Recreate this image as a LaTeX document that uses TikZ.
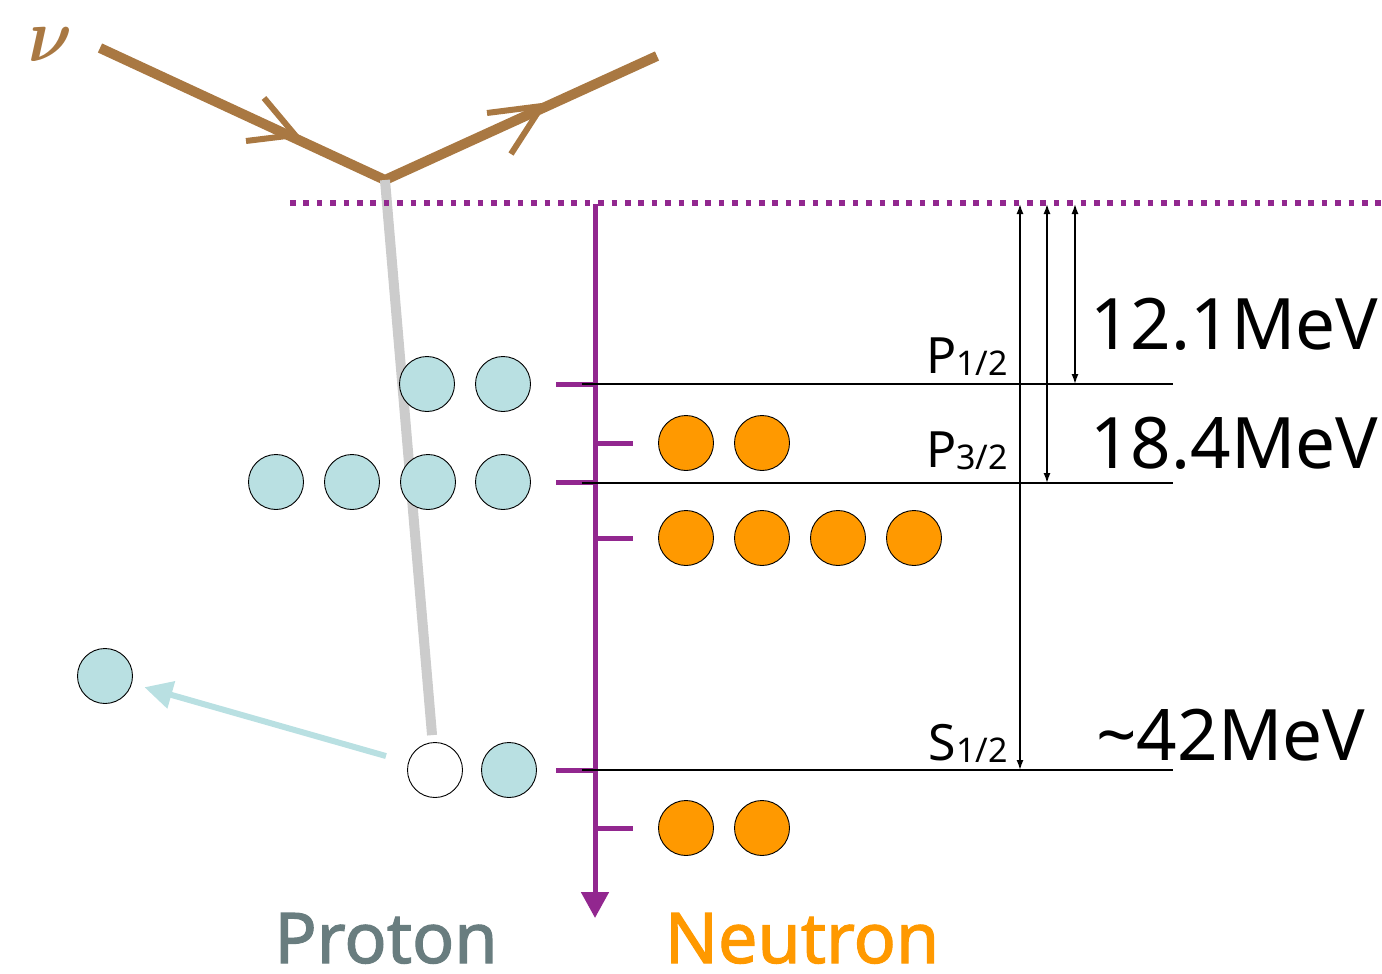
\documentclass[tikz,border=0pt]{standalone}
\usepackage{amsmath}
\usepackage{graphicx}
\usepackage{fontspec}
\setmainfont{Noto Sans}
\newfontfamily\speciesfont{Noto Sans}[FakeBold=1.6]
\usetikzlibrary{arrows.meta}

\definecolor{nubrown}{HTML}{A97842}
\definecolor{axispurple}{HTML}{92278F}
\definecolor{protonblue}{HTML}{B9E0E2}
\definecolor{neutronorange}{HTML}{FF9900}
\definecolor{protongrey}{HTML}{697D7F}
\definecolor{recoilgrey}{HTML}{CCCCCC}

\begin{document}
\begin{tikzpicture}[x=1pt,y=-1pt,
  nucleon/.style={circle,draw=black,line width=0.9pt,minimum size=55pt,inner sep=0pt},
  proton/.style={nucleon,fill=protonblue},
  neutron/.style={nucleon,fill=neutronorange},
  hole/.style={nucleon,fill=white},
  nuline/.style={draw=nubrown,line width=10pt},
  nuarm/.style={draw=nubrown,line width=6pt},
  recoil/.style={draw=recoilgrey,line width=10pt},
  knockout/.style={draw=protonblue,line width=6pt,-{Triangle[length=28pt,width=27pt]}},
  threshold/.style={draw=axispurple,line width=5.5pt,dash pattern=on 5.5pt off 7.9pt},
  axis/.style={draw=axispurple,line width=5pt,-{Triangle[length=26pt,width=27pt]}},
  tickmark/.style={draw=axispurple,line width=5pt},
  level/.style={draw=black,line width=2pt},
  gap/.style={draw=black,line width=1.5pt,{Latex[length=10pt,width=7pt]}-{Latex[length=10pt,width=7pt]}},
  statelabel/.style={anchor=base east,font=\fontsize{50}{54}\selectfont,inner sep=0pt},
  energy/.style={anchor=base west,font=\fontsize{71}{76}\selectfont,inner sep=0pt},
  species/.style={anchor=base,font=\speciesfont\fontsize{70}{74}\selectfont,inner sep=0pt,text depth=0pt}
]
\useasboundingbox (0,0) rectangle (1382,974);

% incoming and outgoing neutrino
\node[text=nubrown,inner sep=0pt] (nu) at (50,45) {\scalebox{6.8}[7.6]{$\boldsymbol{\nu}$}};
\coordinate (nuin) at (100,48);
\coordinate (vtx) at (385,180);
\coordinate (nuout) at (657,56);
\draw[nuline] (nuin) -- (vtx) -- (nuout);
\draw[nuarm] (246,141) -- (295,135) -- (264,98);
\draw[nuarm] (487,113) -- (542,106) -- (511,154);

% struck proton: its position, used by the exchanged boson line
\coordinate (holec) at (435,770);
\draw[recoil,shorten >=35pt] (vtx) -- (holec);

% nucleons
\node[proton] (p11) at (427,384) {};
\node[proton] (p12) at (503,384) {};
\node[proton] (p21) at (276,482) {};
\node[proton] (p22) at (352,482) {};
\node[proton] (p23) at (428,482) {};
\node[proton] (p24) at (503,482) {};
\node[hole]   (hole) at (holec) {};
\node[proton] (p32) at (509,770) {};
\node[proton] (free) at (105,676) {};

\node[neutron] (n11) at (686,443) {};
\node[neutron] (n12) at (762,443) {};
\node[neutron] (n21) at (686,538) {};
\node[neutron] (n22) at (762,538) {};
\node[neutron] (n23) at (838,538) {};
\node[neutron] (n24) at (914,538) {};
\node[neutron] (n31) at (686,828) {};
\node[neutron] (n32) at (762,828) {};

% knocked-out proton
\draw[knockout,shorten <=23pt,shorten >=13pt] (hole) -- (free);

% threshold and energy axis
\coordinate (thl) at (290,203);
\coordinate (thr) at (1382,203);
\draw[threshold] (thl) -- (thr);
\coordinate (axtop) at (595,204);
\coordinate (axbot) at (595,918);
\draw[axis] (axtop) -- (axbot);

\draw[tickmark] (556,384) -- (595,384);
\draw[tickmark] (556,482) -- (595,482);
\draw[tickmark] (556,770) -- (595,770);
\draw[tickmark] (595,443) -- (633,443);
\draw[tickmark] (595,538) -- (633,538);
\draw[tickmark] (595,828) -- (633,828);

% shell levels
\coordinate (lp1a) at (582,384); \coordinate (lp1b) at (1173,384);
\coordinate (lp3a) at (582,483); \coordinate (lp3b) at (1173,483);
\coordinate (ls1a) at (582,770); \coordinate (ls1b) at (1173,770);
\draw[level] (lp1a) -- (lp1b);
\draw[level] (lp3a) -- (lp3b);
\draw[level] (ls1a) -- (ls1b);

% separation energies
\coordinate (g1) at (1020,204);
\coordinate (g2) at (1047,204);
\coordinate (g3) at (1075,204);
\draw[gap] (g1) -- (g1 |- ls1a);
\draw[gap] (g2) -- (g2 |- lp3a);
\draw[gap] (g3) -- (g3 |- lp1a);

\node[statelabel] (lblp1) at (1008,373) {P\raisebox{-2pt}{\fontsize{34}{36}\selectfont 1/2}};
\node[statelabel] (lblp3) at (1008,467) {P\raisebox{-2pt}{\fontsize{34}{36}\selectfont 3/2}};
\node[statelabel] (lbls1) at (1008,760) {S\raisebox{-2pt}{\fontsize{34}{36}\selectfont 1/2}};

\node[energy] (e1) at (1090,349) {12.1MeV};
\node[energy] (e2) at (1090,468) {18.4MeV};
\node[energy] (e3) at (1096,760) {\textasciitilde42MeV};

\node[species,text=protongrey] (lblproton) at (386,963) {Proton};
\node[species,text=neutronorange] (lblneutron) at (802,963) {Neutron};
\end{tikzpicture}
\end{document}
